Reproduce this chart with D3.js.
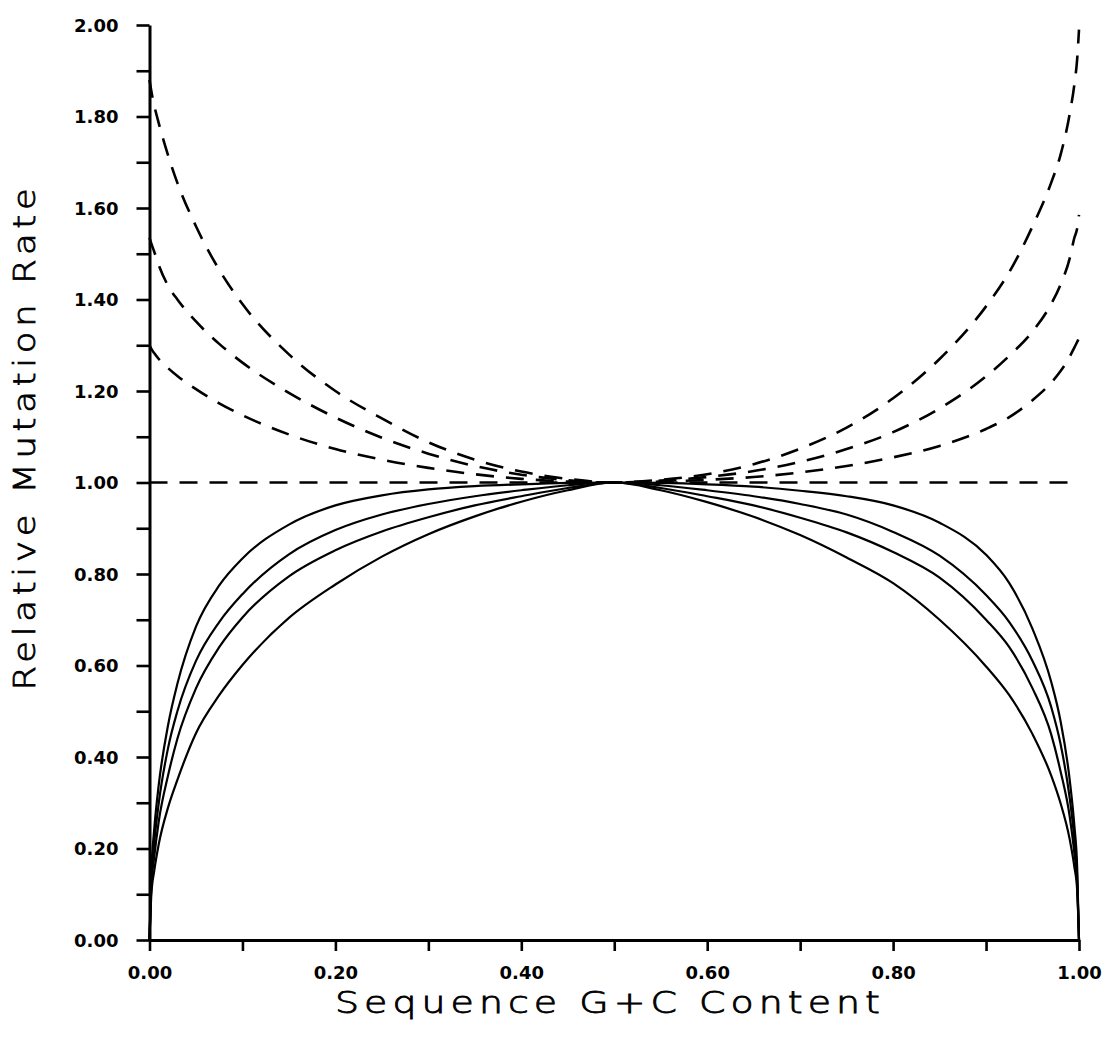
<!DOCTYPE html>
<html>
<head>
<meta charset="utf-8">
<script src="https://cdn.jsdelivr.net/npm/d3@7"></script>
<style>
  html, body { margin: 0; padding: 0; background: #fff; }
  svg { display: block; }
  .tick text { font-family: "DejaVu Sans", sans-serif; font-weight: bold; font-size: 18px; fill: #000; }
  .title { font-family: "DejaVu Sans", sans-serif; font-weight: 200; font-size: 30px; fill: #000; stroke: #000; stroke-width: 0.8px; letter-spacing: 4px; }
</style>
</head>
<body>
<svg id="chart" width="1105" height="1042"></svg>
<script>
// G+C content sample points
const gc = [0, 0.002, 0.005, 0.01, 0.02, 0.03, 0.05, 0.075, 0.1, 0.15, 0.2, 0.25, 0.3, 0.35, 0.4, 0.45,
            0.5, 0.55, 0.6, 0.65, 0.7, 0.75, 0.8, 0.85, 0.9, 0.925, 0.95, 0.97, 0.98, 0.99, 0.995, 0.998, 1];

// Relative mutation rate, solid curves (highest to lowest)
const solid1 = [0, 0.15, 0.24, 0.34, 0.47, 0.56, 0.685, 0.775, 0.834, 0.908, 0.950, 0.972, 0.985, 0.992, 0.996, 0.999,
                1.0, 0.999, 0.996, 0.991, 0.982, 0.970, 0.950, 0.912, 0.842, 0.780, 0.680, 0.565, 0.48, 0.35, 0.25, 0.16, 0];
const solid2 = [0, 0.13, 0.21, 0.30, 0.42, 0.50, 0.61, 0.695, 0.756, 0.843, 0.896, 0.930, 0.953, 0.970, 0.983, 0.994,
                1.0, 0.994, 0.983, 0.970, 0.953, 0.930, 0.892, 0.840, 0.754, 0.695, 0.61, 0.51, 0.43, 0.31, 0.22, 0.14, 0];
const solid3 = [0, 0.12, 0.18, 0.26, 0.36, 0.44, 0.55, 0.64, 0.705, 0.795, 0.852, 0.893, 0.924, 0.950, 0.970, 0.988,
                1.0, 0.988, 0.970, 0.950, 0.923, 0.891, 0.848, 0.792, 0.700, 0.64, 0.55, 0.45, 0.37, 0.27, 0.19, 0.125, 0];
const solid4 = [0, 0.10, 0.15, 0.21, 0.29, 0.35, 0.452, 0.535, 0.601, 0.704, 0.777, 0.838, 0.887, 0.926, 0.958, 0.983,
                1.0, 0.983, 0.957, 0.925, 0.885, 0.836, 0.780, 0.700, 0.598, 0.535, 0.45, 0.36, 0.30, 0.22, 0.16, 0.11, 0];

// Relative mutation rate, dashed curves (highest to lowest, then the constant rate)
const dashed1 = [1.88, 1.855, 1.825, 1.785, 1.715, 1.655, 1.56, 1.465, 1.39, 1.28, 1.20, 1.14, 1.088, 1.05, 1.024, 1.008,
                 1.0, 1.006, 1.018, 1.04, 1.074, 1.12, 1.184, 1.27, 1.385, 1.46, 1.56, 1.655, 1.715, 1.806, 1.87, 1.925, 1.99];
const dashed2 = [1.535, 1.522, 1.505, 1.475, 1.43, 1.40, 1.352, 1.303, 1.262, 1.196, 1.142, 1.098, 1.063, 1.036, 1.017, 1.005,
                 1.0, 1.004, 1.012, 1.025, 1.045, 1.073, 1.11, 1.162, 1.232, 1.277, 1.33, 1.39, 1.432, 1.49, 1.535, 1.555, 1.585];
const dashed3 = [1.30, 1.292, 1.283, 1.27, 1.25, 1.233, 1.204, 1.173, 1.147, 1.105, 1.073, 1.05, 1.032, 1.018, 1.008, 1.002,
                 1.0, 1.002, 1.006, 1.012, 1.022, 1.036, 1.055, 1.08, 1.117, 1.143, 1.18, 1.218, 1.243, 1.275, 1.295, 1.307, 1.316];
const dashedFlat = gc.map(() => 1.0);

// Axis ticks
const xTicks = [0, 0.1, 0.2, 0.3, 0.4, 0.5, 0.6, 0.7, 0.8, 0.9, 1.0];
const yTicks = [0, 0.1, 0.2, 0.3, 0.4, 0.5, 0.6, 0.7, 0.8, 0.9, 1.0, 1.1, 1.2, 1.3, 1.4, 1.5, 1.6, 1.7, 1.8, 1.9, 2.0];
const xLabels = ["0.00", "", "0.20", "", "0.40", "", "0.60", "", "0.80", "", "1.00"];
const yLabels = ["0.00", "", "0.20", "", "0.40", "", "0.60", "", "0.80", "", "1.00", "", "1.20", "", "1.40", "", "1.60", "", "1.80", "", "2.00"];

const svg = d3.select("#chart");

const x = d3.scaleLinear().domain([0, 1]).range([149.5, 1079]);
const y = d3.scaleLinear().domain([0, 2]).range([940, 25]);

const line = d3.line()
  .x((d, i) => x(gc[i]))
  .y(d => y(d))
  .curve(d3.curveMonotoneX);

// Curves
const solids = [solid1, solid2, solid3, solid4];
const dashes = [dashed1, dashed2, dashed3, dashedFlat];

svg.append("g").selectAll("path.solid")
  .data(solids).join("path")
  .attr("class", "solid")
  .attr("d", line)
  .attr("fill", "none")
  .attr("stroke", "#000")
  .attr("stroke-width", 2.2);

svg.append("g").selectAll("path.dash")
  .data(dashes).join("path")
  .attr("class", "dash")
  .attr("d", line)
  .attr("fill", "none")
  .attr("stroke", "#000")
  .attr("stroke-width", 2.6)
  .attr("stroke-dasharray", "18,12");

// Axes
const xAxis = d3.axisBottom(x)
  .tickValues(xTicks)
  .tickFormat((d, i) => xLabels[i])
  .tickSize(11)
  .tickSizeOuter(0)
  .tickPadding(15);

const yAxis = d3.axisLeft(y)
  .tickValues(yTicks)
  .tickFormat((d, i) => yLabels[i])
  .tickSize(13)
  .tickSizeOuter(0)
  .tickPadding(18);

const gx = svg.append("g").attr("transform", `translate(0,${y(0)})`).call(xAxis);
const gy = svg.append("g").attr("transform", `translate(${x(0)},0)`).call(yAxis);

[gx, gy].forEach(g => {
  g.select(".domain").attr("stroke", "#000").attr("stroke-width", 3);
  g.selectAll(".tick line").attr("stroke", "#000").attr("stroke-width", 2.6);
});
gy.selectAll(".tick text").attr("dy", "0.36em");

// Axis titles, stretched to the plotter lettering width
svg.append("text")
  .attr("class", "title")
  .attr("x", 610)
  .attr("y", 1013)
  .attr("text-anchor", "middle")
  .attr("textLength", 550)
  .attr("lengthAdjust", "spacingAndGlyphs")
  .text("Sequence G+C Content");

svg.append("text")
  .attr("class", "title")
  .attr("transform", "translate(35,437) rotate(-90)")
  .attr("text-anchor", "middle")
  .attr("textLength", 507)
  .attr("lengthAdjust", "spacingAndGlyphs")
  .text("Relative Mutation Rate");
</script>
</body>
</html>
